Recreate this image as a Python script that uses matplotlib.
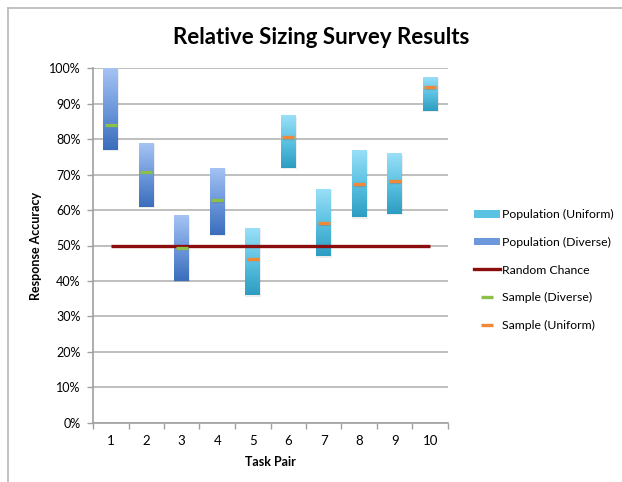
import numpy as np
import matplotlib
matplotlib.use("Agg")
import matplotlib.pyplot as plt
from matplotlib.patches import Patch
from matplotlib.lines import Line2D
from matplotlib.colors import LinearSegmentedColormap

plt.rcParams['font.family'] = ['Lato', 'DejaVu Sans']

# Survey results per task pair
task_pairs = [1, 2, 3, 4, 5, 6, 7, 8, 9, 10]
group = ["Diverse", "Diverse", "Diverse", "Diverse", "Uniform",
         "Uniform", "Uniform", "Uniform", "Uniform", "Uniform"]
pop_low = [0.77, 0.61, 0.40, 0.53, 0.36, 0.72, 0.47, 0.58, 0.59, 0.88]
pop_high = [1.00, 0.79, 0.585, 0.72, 0.55, 0.867, 0.66, 0.77, 0.76, 0.976]
sample = [0.84, 0.708, 0.494, 0.628, 0.462, 0.805, 0.563, 0.673, 0.681, 0.947]
random_chance = 0.50
y_ticks = np.arange(0, 1.01, 0.1)

W, H = 622, 482
fig = plt.figure(figsize=(W / 100, H / 100), dpi=100)
ax = fig.add_axes([93 / W, 1 - 422.7 / H, (448 - 93) / W, (422.7 - 68.3) / H])

cmaps = {
    "Diverse": LinearSegmentedColormap.from_list(
        "div", [(0.0, "#a6c4f3"), (0.5, "#6d98dc"), (1.0, "#3b6dbb")]),
    "Uniform": LinearSegmentedColormap.from_list(
        "uni", [(0.0, "#9be0f8"), (0.5, "#5cc2e2"), (1.0, "#2c9dc1")]),
}
sample_colors = {"Diverse": "#8dc04b", "Uniform": "#f0883a"}
bar_w = 0.42

grad = np.linspace(0, 1, 256).reshape(-1, 1)
for x, lo, hi, g, s in zip(task_pairs, pop_low, pop_high, group, sample):
    # soft drop shadow
    ax.bar(x + 0.015, hi - lo, bottom=lo - 0.004, width=bar_w + 0.02,
           color="#000000", alpha=0.07, zorder=2, linewidth=0)
    rect = ax.bar(x, hi - lo, bottom=lo, width=bar_w, color="none",
                  linewidth=0, zorder=3)[0]
    im = ax.imshow(grad, cmap=cmaps[g], aspect="auto",
                   extent=[x - bar_w / 2, x + bar_w / 2, lo, hi],
                   origin="upper", zorder=3, interpolation="bilinear")
    im.set_clip_path(rect)
    ax.plot([x - bar_w / 2 + 0.04, x + bar_w / 2 - 0.04], [s, s],
            color=sample_colors[g], lw=2.4, solid_capstyle="butt", zorder=7)
    ax.plot([x - bar_w / 2 + 0.04, x + bar_w / 2 - 0.04], [s - 0.004, s - 0.004],
            color="#555555", alpha=0.25, lw=1.0, solid_capstyle="butt", zorder=4)

ax.plot([task_pairs[0], task_pairs[-1]], [random_chance, random_chance],
        color="#8b0d0d", lw=2.4, zorder=6, solid_capstyle="butt")

ax.set_xlim(0.5, 10.5)
ax.set_ylim(0, 1.0)
ax.set_yticks(y_ticks)
ax.set_yticklabels([f"{int(round(v * 100))}%" for v in y_ticks], fontsize=9)
ax.set_xticks(task_pairs)
ax.set_xticklabels([str(t) for t in task_pairs], fontsize=9.5)
ax.set_xticks(np.arange(0.5, 10.6, 1), minor=True)
ax.tick_params(axis="x", which="major", length=0, pad=9)
ax.tick_params(axis="x", which="minor", length=4, color="#a0a0a0", width=1)
ax.tick_params(axis="y", length=4, color="#a0a0a0", width=1, pad=5)
ax.grid(axis="y", color="#b4b4b4", lw=1.2, zorder=1)
ax.set_axisbelow(True)
for sp in ("top", "right"):
    ax.spines[sp].set_visible(False)
for sp in ("left", "bottom"):
    ax.spines[sp].set_color("#a0a0a0")
    ax.spines[sp].set_linewidth(1.2)

ax.set_xlabel("Task Pair", fontsize=9, fontweight="bold", labelpad=6)
ax.set_ylabel("Response Accuracy", fontsize=9, fontweight="bold", labelpad=5)
fig.text(321 / W, 1 - 38 / H, "Relative Sizing Survey Results",
         ha="center", va="center", fontsize=16, fontweight="bold")

handles = [
    Patch(facecolor="#5cc2e2", edgecolor="none", label="Population (Uniform)"),
    Patch(facecolor="#6d98dc", edgecolor="none", label="Population (Diverse)"),
    Line2D([], [], color="#8b0d0d", lw=2.4, label="Random Chance"),
    Line2D([], [], color=sample_colors["Diverse"], marker="_", ls="none",
           markersize=8, markeredgewidth=2.4, label="Sample (Diverse)"),
    Line2D([], [], color=sample_colors["Uniform"], marker="_", ls="none",
           markersize=8, markeredgewidth=2.4, label="Sample (Uniform)"),
]
fig.legend(handles=handles, loc="center left",
           bbox_to_anchor=(469 / W, 1 - 270 / H), frameon=False,
           fontsize=8.8, handlelength=2.1, handleheight=0.55,
           handletextpad=0.2, labelspacing=1.35, borderaxespad=0)

# chart frame
frame_kw = dict(color="#b8b8b8", lw=1.2, transform=fig.transFigure)
fig.add_artist(Line2D([8 / W, 1], [1 - 8 / H, 1 - 8 / H], **frame_kw))
fig.add_artist(Line2D([8 / W, 8 / W], [0, 1 - 8 / H], **frame_kw))

fig.savefig("out.png", dpi=100, facecolor="white")
